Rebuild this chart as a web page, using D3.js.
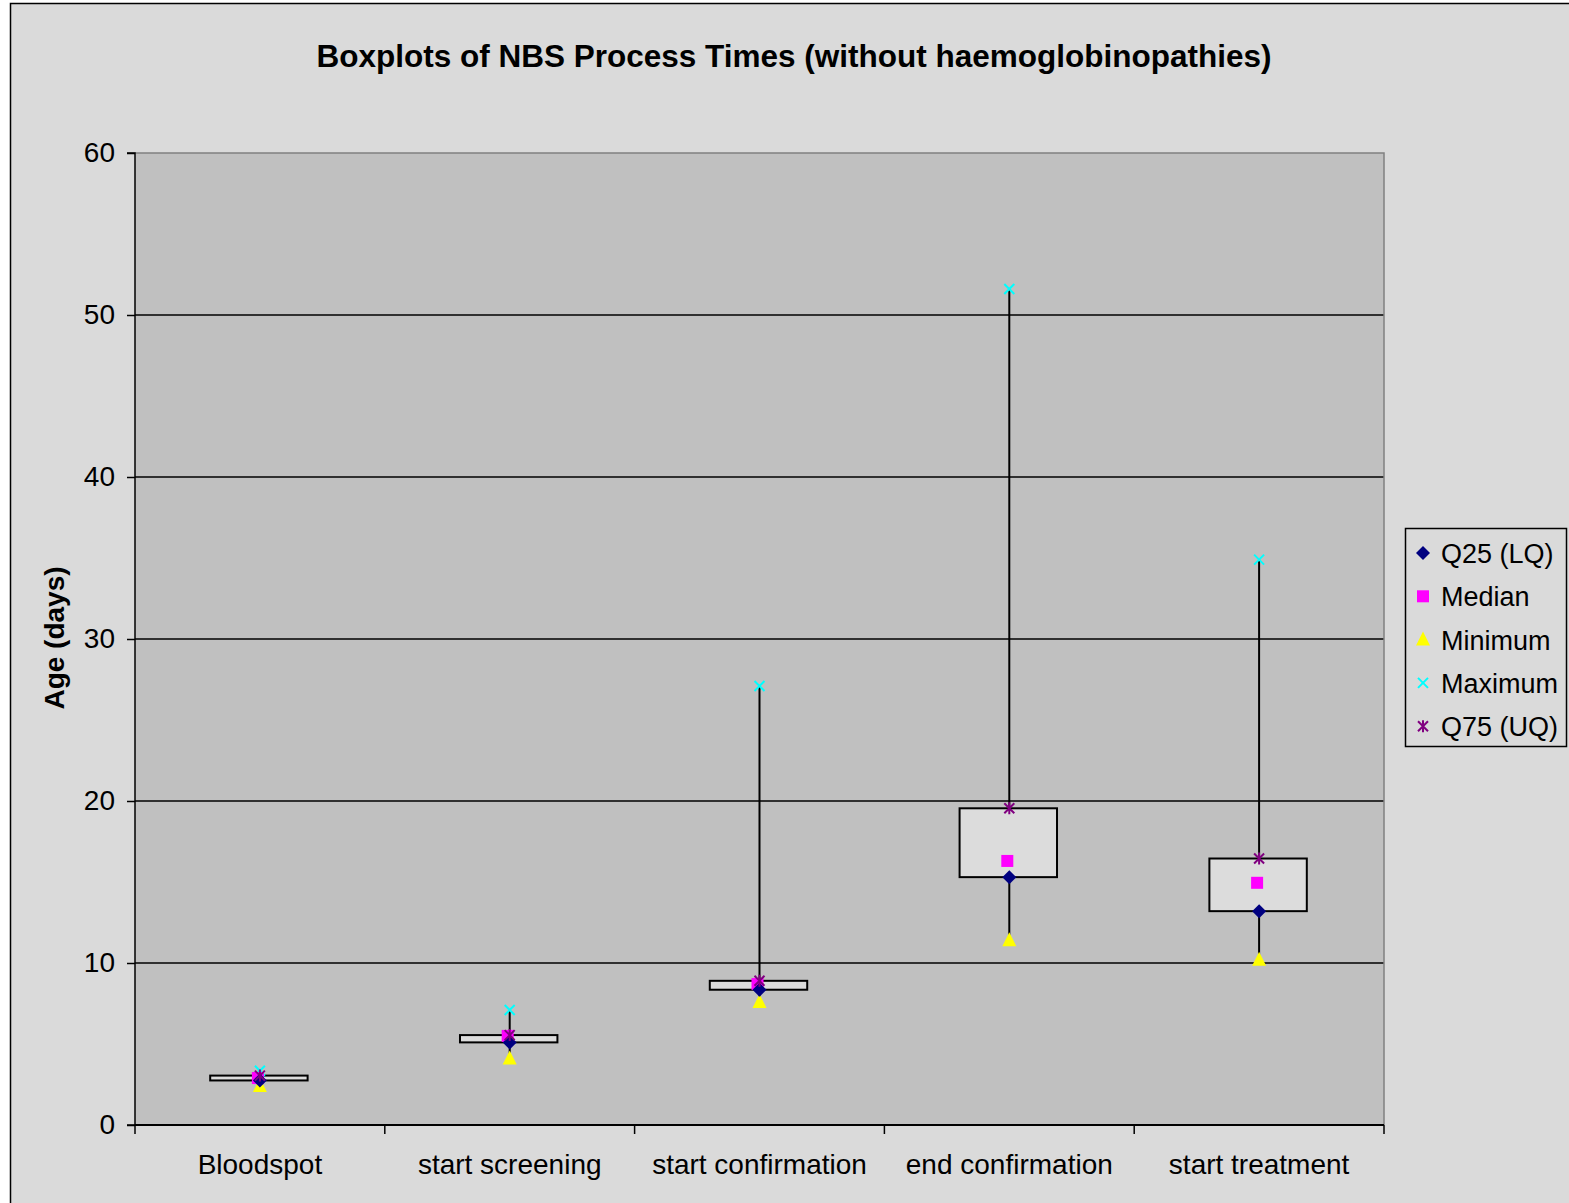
<!DOCTYPE html>
<html><head><meta charset="utf-8">
<script src="https://cdn.jsdelivr.net/npm/d3@7"></script>
<style>body{margin:0;background:#fff;font-family:"Liberation Sans",Arial,sans-serif}</style>
</head><body>
<svg id="c" width="1569" height="1203"></svg>
<script>
const categories = ["Bloodspot","start screening","start confirmation","end confirmation","start treatment"];
const q25 = [2.75, 5.1, 8.35, 15.3, 13.2];
const median = [2.9, 5.5, 8.7, 16.3, 14.95];
const minimum = [2.4, 4.1, 7.6, 11.4, 10.2];
const maximum = [3.35, 7.1, 27.1, 51.6, 34.9];
const q75 = [3.05, 5.55, 8.9, 19.55, 16.45];
const yTicks = [0,10,20,30,40,50,60];
const seriesNames = ["Q25 (LQ)","Median","Minimum","Maximum","Q75 (UQ)"];

const svg = d3.select("#c");
const F = '"Liberation Sans",Arial,sans-serif';
svg.append("rect").attr("x",0).attr("y",0).attr("width",1569).attr("height",1203).attr("fill","#fff");
svg.append("rect").attr("x",10.5).attr("y",3.5).attr("width",1600).attr("height",1300)
  .attr("fill","#DADADA").attr("stroke","#000").attr("stroke-width",1.5);

const L=135, R=1384, T=153, B=1125;
const x = d3.scaleBand().domain(categories).range([L,R]);
const y = d3.scaleLinear().domain([0,60]).range([B,T]);

svg.append("rect").attr("x",L).attr("y",T).attr("width",R-L).attr("height",B-T).attr("fill","#C0C0C0");
svg.append("g").selectAll("line").data(yTicks.filter(d=>d>0&&d<60)).join("line")
  .attr("x1",L).attr("x2",R).attr("y1",d=>y(d)).attr("y2",d=>y(d)).attr("stroke","#000").attr("stroke-width",1.5);
svg.append("path").attr("d",`M${L},${T}H${R}V${B}`).attr("fill","none").attr("stroke","#808080").attr("stroke-width",1.5);

const ya = svg.append("g").attr("transform",`translate(${L},0)`)
  .call(d3.axisLeft(y).tickValues(yTicks).tickSize(8).tickPadding(12).tickFormat(d3.format("d")));
ya.select(".domain").attr("stroke","#000").attr("stroke-width",1.5).attr("d",`M-8,${T}H0V${B}H-8`);
ya.selectAll(".tick line").attr("stroke","#000").attr("stroke-width",1.5);
ya.selectAll("text").attr("font-family",F).attr("font-size",28).attr("fill","#000");

const xa = svg.append("g").attr("transform",`translate(0,${B})`)
  .call(d3.axisBottom(x).tickSize(0).tickPadding(29));
xa.select(".domain").attr("stroke","#000").attr("stroke-width",2).attr("d",`M${L},0H${R}`);
xa.selectAll("text").attr("font-family",F).attr("font-size",28).attr("fill","#000");
const bounds = categories.map(c=>x(c)).concat([R]);
svg.append("g").selectAll("line").data(bounds).join("line")
  .attr("x1",d=>d).attr("x2",d=>d).attr("y1",B).attr("y2",B+9).attr("stroke","#000").attr("stroke-width",1.5);

const cx = c => x(c)+x.bandwidth()/2;
const bw = x.bandwidth()*0.39;
const g = svg.append("g");
categories.forEach((c,i)=>{
  const X = cx(c);
  g.append("line").attr("x1",X).attr("x2",X).attr("y1",y(maximum[i])).attr("y2",y(q75[i])).attr("stroke","#000").attr("stroke-width",2);
  g.append("line").attr("x1",X).attr("x2",X).attr("y1",y(q25[i])).attr("y2",y(minimum[i])).attr("stroke","#000").attr("stroke-width",2);
  g.append("rect").attr("x",cx(c)-bw/2-1).attr("y",y(q75[i])).attr("width",bw).attr("height",Math.max(1,y(q25[i])-y(q75[i])))
    .attr("fill","#DCDCDC").attr("stroke","#000").attr("stroke-width",2);
});

function marker(sel, type, px, py){
  if(type===0){ sel.append("path").attr("d",`M${px},${py-7}L${px+7},${py}L${px},${py+7}L${px-7},${py}Z`).attr("fill","#000080"); }
  else if(type===1){ sel.append("rect").attr("x",px-6).attr("y",py-6).attr("width",12).attr("height",12).attr("fill","#FF00FF"); }
  else if(type===2){ sel.append("path").attr("d",`M${px},${py-8}L${px+7},${py+6}L${px-7},${py+6}Z`).attr("fill","#FFFF00"); }
  else if(type===3){ sel.append("path").attr("d",`M${px-5},${py-5}L${px+5},${py+5}M${px+5},${py-5}L${px-5},${py+5}`).attr("stroke","#00FFFF").attr("stroke-width",2); }
  else { sel.append("path").attr("d",`M${px-5},${py-5}L${px+5},${py+5}M${px+5},${py-5}L${px-5},${py+5}M${px},${py-6}V${py+6}`).attr("stroke","#800080").attr("stroke-width",2); }
}
const series = [q25, median, minimum, maximum, q75];
const order = [2,3,1,0,4];
order.forEach(s=>{
  categories.forEach((c,i)=>{
    marker(g, s, cx(c)-(s===1?2:0), y(series[s][i]));
  });
});

svg.append("text").attr("x",794).attr("y",67).attr("text-anchor","middle").attr("font-family",F)
  .attr("font-size",31.5).attr("font-weight","bold").text("Boxplots of NBS Process Times (without haemoglobinopathies)");
svg.append("text").attr("transform","translate(64,638) rotate(-90)").attr("text-anchor","middle").attr("font-family",F)
  .attr("font-size",28).attr("font-weight","bold").text("Age (days)");

const lg = svg.append("g");
lg.append("rect").attr("x",1405.5).attr("y",528.5).attr("width",161).attr("height",218).attr("fill","#DADADA").attr("stroke","#000").attr("stroke-width",1.5);
seriesNames.forEach((n,i)=>{
  const yy = 553 + i*43.3;
  marker(lg, i, 1423, yy);
  lg.append("text").attr("x",1441).attr("y",yy+10).attr("font-family",F).attr("font-size",27).text(n);
});
</script>
</body></html>
